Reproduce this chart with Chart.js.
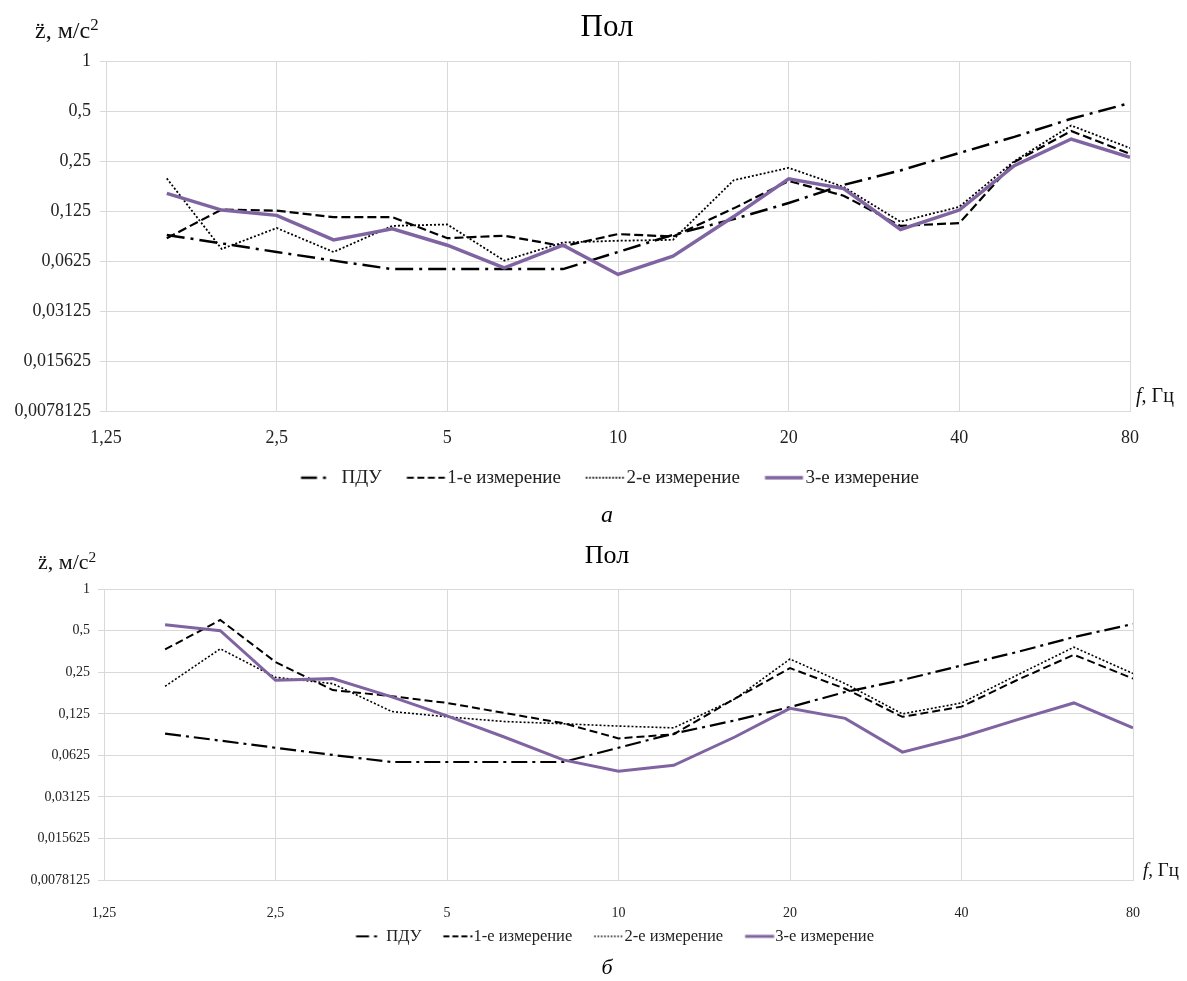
<!DOCTYPE html>
<html>
<head>
<meta charset="utf-8">
<script src="https://cdn.jsdelivr.net/npm/chart.js@4.4.1/dist/chart.umd.min.js"></script>
<style>
  html, body { margin: 0; overflow: hidden; }
  body { background: #fff; width: 1187px; height: 981px; position: relative;
         font-family: 'Liberation Serif', serif; color: #111; }
  .box { position: absolute; left: 0; width: 1214px; }
  #boxA { top: 0; height: 530px; }
  #boxB { top: 535px; height: 446px; }
  .lbl { position: absolute; white-space: nowrap; line-height: 1; }
  .lbl .sup { font-size: 0.7em; position: relative; top: -0.45em; }
</style>
</head>
<body>
<div class="box" id="boxA"><canvas id="chartA"></canvas></div>
<div class="box" id="boxB"><canvas id="chartB"></canvas></div>

<div class="lbl" style="left:35px; top:18px; font-size:24px;">z&#776;, м/с<span class="sup">2</span></div>
<div class="lbl" style="left:1136px; top:385px; font-size:20px;"><i>f</i>, Гц</div>
<div class="lbl" style="left:38px; top:551px; font-size:22px;">z&#776;, м/с<span class="sup">2</span></div>
<div class="lbl" style="left:1143px; top:860px; font-size:19px;"><i>f</i>, Гц</div>

<script>
// third-octave band centres, Hz
var freqs = [1.6, 2, 2.5, 3.15, 4, 5, 6.3, 8, 10, 12.5, 16, 20, 25, 31.5, 40, 50, 63, 80];
var xTicks = [1.25, 2.5, 5, 10, 20, 40, 80];
var yTicks = [0.0078125, 0.015625, 0.03125, 0.0625, 0.125, 0.25, 0.5, 1];
var seriesNames = ['ПДУ', '1-е измерение', '2-е измерение', '3-е измерение'];

// limit values (same on both charts)
var pdu = [0.09, 0.08, 0.071, 0.063, 0.056, 0.056, 0.056, 0.056, 0.071, 0.09, 0.112, 0.14, 0.18, 0.22, 0.28, 0.35, 0.45, 0.56];

// chart а
var floorA1 = [0.086, 0.128, 0.126, 0.115, 0.115, 0.086, 0.089, 0.077, 0.091, 0.088, 0.13, 0.19, 0.155, 0.102, 0.106, 0.247, 0.38, 0.277];
var floorA2 = [0.197, 0.074, 0.099, 0.071, 0.102, 0.104, 0.063, 0.081, 0.083, 0.084, 0.192, 0.228, 0.175, 0.108, 0.133, 0.25, 0.41, 0.30];
var floorA3 = [0.16, 0.127, 0.118, 0.084, 0.098, 0.078, 0.057, 0.078, 0.052, 0.067, 0.116, 0.196, 0.171, 0.097, 0.127, 0.235, 0.34, 0.264];

// chart б
var floorB1 = [0.366, 0.598, 0.297, 0.186, 0.168, 0.15, 0.127, 0.107, 0.083, 0.089, 0.161, 0.268, 0.19, 0.119, 0.141, 0.219, 0.335, 0.225];
var floorB2 = [0.198, 0.37, 0.23, 0.207, 0.13, 0.119, 0.11, 0.106, 0.102, 0.099, 0.16, 0.312, 0.207, 0.125, 0.15, 0.238, 0.38, 0.245];
var floorB3 = [0.553, 0.5, 0.219, 0.225, 0.166, 0.121, 0.085, 0.058, 0.048, 0.053, 0.085, 0.137, 0.116, 0.066, 0.085, 0.113, 0.15, 0.099];

var purple = '#8064a2';
var gridColor = '#d9d9d9';
var lineColors = ['#000', '#000', '#000', purple];

function commaLabel(v) {
    return String(v).replace('.', ',');
}

// small picture of the line style for the legend (Chart.js draws point-style legends without dashes)
function legendIcon(i, s) {
    var c = document.createElement('canvas');
    c.width = Math.round(s.boxW + s.legendSize);
    c.height = 10;
    var g = c.getContext('2d');
    var x0 = c.width / 2 - s.boxW / 2 + s.iconStart;
    g.strokeStyle = lineColors[i];
    g.lineWidth = s.widths[i];
    g.setLineDash(s.iconDashes[i]);
    g.beginPath();
    g.moveTo(x0, 5);
    g.lineTo(x0 + s.iconLen, 5);
    g.stroke();
    return c;
}

function makeDatasets(values, s) {
    return values.map(function (vals, i) {
        return {
            label: seriesNames[i],
            data: vals,
            borderColor: lineColors[i],
            backgroundColor: lineColors[i],
            borderWidth: s.widths[i],
            borderDash: s.dashes[i],
            pointRadius: 0,
            pointHoverRadius: 0,
            pointStyle: legendIcon(i, s),
            tension: 0,
            fill: false,
            order: 4 - i
        };
    });
}

function makeOptions(s) {
    return {
        responsive: true,
        maintainAspectRatio: false,
        animation: false,
        layout: { padding: 0 },
        plugins: {
            title: {
                display: true, text: 'Пол', color: '#000',
                font: { size: s.titleSize, weight: 'normal' },
                padding: { top: s.titleTop, bottom: s.titleBottom }
            },
            subtitle: {
                display: true, text: s.caption, position: 'bottom', color: '#000',
                font: { size: s.capSize, style: 'italic', weight: 'normal' },
                padding: { top: s.capTop, bottom: 0 }
            },
            legend: {
                position: 'bottom',
                labels: {
                    color: '#222',
                    font: { size: s.legendSize },
                    padding: s.legendPad,
                    usePointStyle: true,
                    pointStyleWidth: s.boxW,
                    sort: function (a, b) { return a.datasetIndex - b.datasetIndex; }
                }
            },
            tooltip: { enabled: false }
        },
        scales: {
            x: {
                type: 'logarithmic', min: 1.25, max: 80, bounds: 'data',
                grid: { color: gridColor, drawTicks: false },
                border: { color: gridColor },
                ticks: { color: '#222', font: { size: s.tickSize }, padding: s.xPad, maxRotation: 0, callback: commaLabel },
                afterBuildTicks: function (axis) { axis.ticks = xTicks.map(function (v) { return { value: v }; }); },
                afterFit: function (axis) { axis.height = s.xHeight; }
            },
            y: {
                type: 'logarithmic', min: 0.0078125, max: 1, bounds: 'data',
                grid: { color: gridColor, tickLength: 6 },
                border: { color: gridColor },
                ticks: { color: '#222', font: { size: s.tickSize }, padding: s.yPad, callback: commaLabel },
                afterBuildTicks: function (axis) { axis.ticks = yTicks.map(function (v) { return { value: v }; }); },
                afterFit: function (axis) { axis.width = s.yWidth; }
            },
            yR: {
                type: 'linear', position: 'right', display: true,
                grid: { display: false }, border: { display: false }, ticks: { display: false },
                afterFit: function (axis) { axis.width = s.rightWidth; }
            }
        }
    };
}

Chart.defaults.font.family = "'Liberation Serif', serif";

var styleA = {
    caption: 'а', titleSize: 31, titleTop: 9, titleBottom: 15,
    capSize: 24, capTop: 4, legendSize: 19, legendPad: 19, boxW: 37,
    iconStart: 6, iconLen: 38,
    tickSize: 18, xPad: 16, xHeight: 38, yPad: 9, yWidth: 106, rightWidth: 84,
    widths: [2.5, 2.2, 1.8, 3.5],
    dashes: [[18, 6, 3, 6], [9, 4], [2, 2], []],
    iconDashes: [[16, 6, 3, 100], [7, 3.5], [1.5, 1.8], []]
};

var styleB = {
    caption: 'б', titleSize: 26, titleTop: 6, titleBottom: 17,
    capSize: 22, capTop: 0, legendSize: 16.5, legendPad: 6, boxW: 38,
    iconStart: 16, iconLen: 29,
    tickSize: 14, xPad: 24.6, xHeight: 42, yPad: 8, yWidth: 104, rightWidth: 81,
    widths: [2.2, 2, 1.6, 3],
    dashes: [[16, 5, 3, 5], [8, 4], [2, 2], []],
    iconDashes: [[13, 5, 3, 100], [6, 3], [1.5, 1.8], []]
};

var ctxA = document.getElementById('chartA').getContext('2d');
new Chart(ctxA, {
    type: 'line',
    data: { labels: freqs, datasets: makeDatasets([pdu, floorA1, floorA2, floorA3], styleA) },
    options: makeOptions(styleA)
});

var ctxB = document.getElementById('chartB').getContext('2d');
new Chart(ctxB, {
    type: 'line',
    data: { labels: freqs, datasets: makeDatasets([pdu, floorB1, floorB2, floorB3], styleB) },
    options: makeOptions(styleB)
});
</script>
</body>
</html>
